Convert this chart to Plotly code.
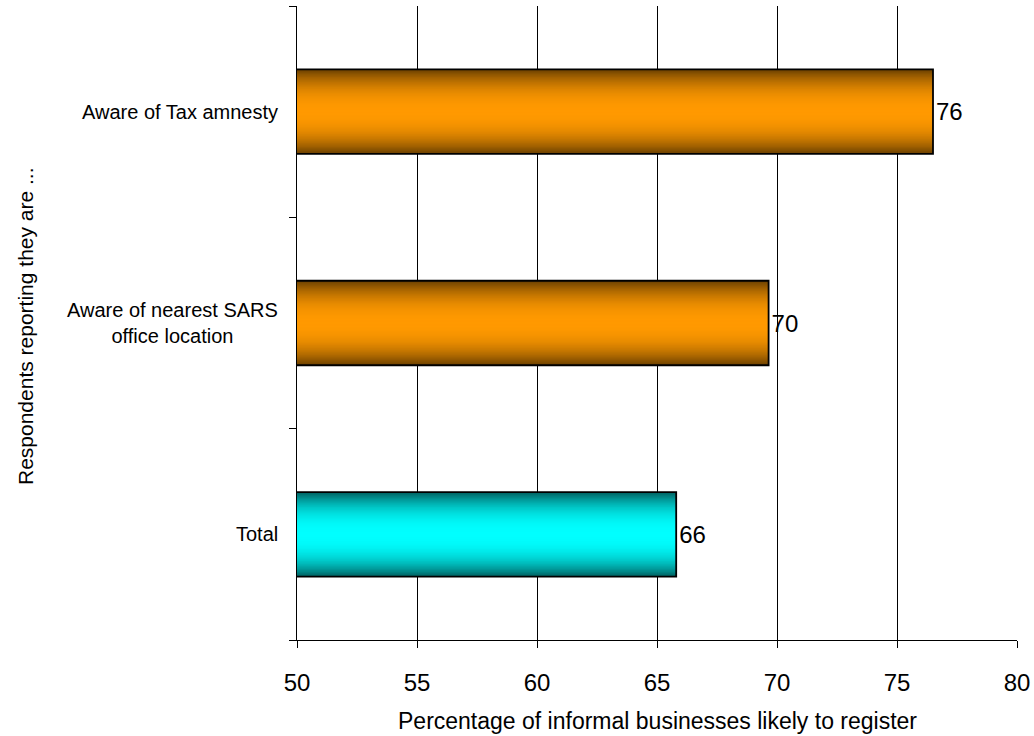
import plotly.graph_objects as go

categories = ["Total", "Aware of nearest SARS<br>office location", "Aware of Tax amnesty"]
values = [65.8, 69.65, 76.5]
labels = ["66", "70", "76"]
edge_colors = [(0, 100, 100), (110, 66, 0), (110, 66, 0)]
center_colors = [(0, 255, 255), (255, 153, 0), (255, 153, 0)]

FONT = "Liberation Sans, Arial, sans-serif"
BAR_W = 0.4
N = 36

fig = go.Figure()
for k in range(N):
    t = 1 - k / N
    d = t ** 2.3
    cols = []
    for e, c in zip(edge_colors, center_colors):
        rgb = [round(e[i] * d + c[i] * (1 - d)) for i in range(3)]
        cols.append(f"rgb({rgb[0]},{rgb[1]},{rgb[2]})")
    fig.add_trace(go.Bar(
        y=categories, x=values, orientation="h", width=BAR_W * t,
        marker=dict(color=cols, line=dict(width=0)),
        showlegend=False, hoverinfo="skip"))

fig.add_trace(go.Bar(
    y=categories, x=values, orientation="h", width=BAR_W,
    marker=dict(color="rgba(0,0,0,0)", line=dict(color="#000000", width=1.8)),
    text=labels, textposition="outside",
    textfont=dict(family=FONT, size=24, color="#000000"),
    showlegend=False, hoverinfo="skip"))

annotations = []
for cat in categories:
    annotations.append(dict(
        x=-0.024, xref="paper", y=cat, yref="y", text=cat, showarrow=False,
        xanchor="right", yanchor="middle", align="center",
        font=dict(family=FONT, size=20, color="#000000")))
annotations.append(dict(
    x=-0.378, xref="paper", y=0.495, yref="paper",
    text="Respondents reporting they are ...", textangle=-90, showarrow=False,
    xanchor="center", yanchor="middle",
    font=dict(family=FONT, size=21, color="#000000")))
annotations.append(dict(
    x=0.5, xref="paper", y=-0.128, yref="paper",
    text="Percentage of informal businesses likely to register", showarrow=False,
    xanchor="center", yanchor="middle",
    font=dict(family=FONT, size=23, color="#000000")))

fig.update_layout(
    width=1034, height=736,
    margin=dict(l=297, r=17, t=6, b=96, autoexpand=False),
    paper_bgcolor="white", plot_bgcolor="white",
    barmode="overlay",
    annotations=annotations,
    xaxis=dict(range=[50, 80], dtick=5, tick0=50, showgrid=True, gridcolor="#000000",
               gridwidth=1, showline=True, linecolor="#000000", linewidth=1,
               ticks="outside", ticklen=7, tickcolor="#000000", ticklabelstandoff=14,
               tickfont=dict(family=FONT, size=24, color="#000000"),
               zeroline=False, fixedrange=True),
    yaxis=dict(type="category", categoryorder="array", categoryarray=categories,
               range=[-0.5, 2.5], showgrid=False, showline=True, linecolor="#000000",
               linewidth=1, ticks="outside", ticklen=7, tickcolor="#000000",
               tickson="boundaries", showticklabels=False, fixedrange=True),
)

fig.write_html("out.html")
